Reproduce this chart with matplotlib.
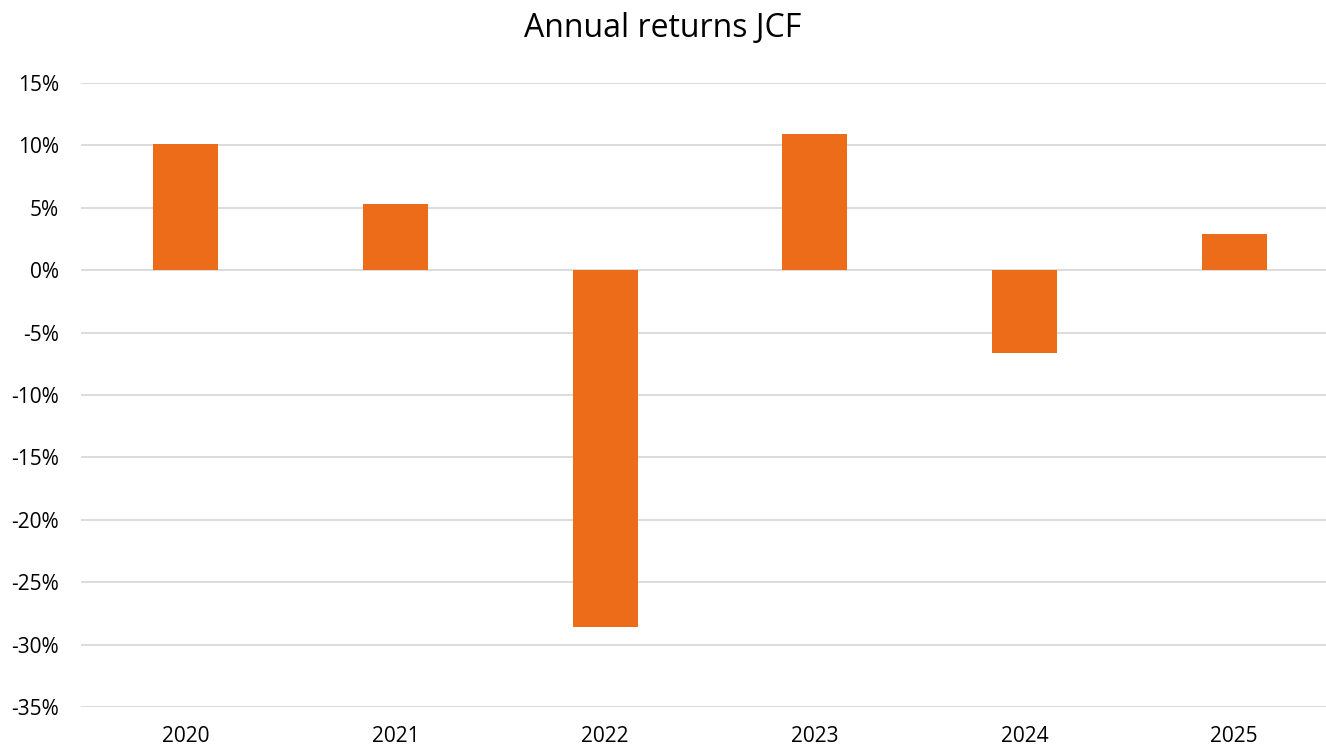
import numpy as np
import matplotlib.pyplot as plt
from matplotlib.ticker import FuncFormatter

years = ['2020', '2021', '2022', '2023', '2024', '2025']
returns = [10.1, 5.3, -28.6, 10.9, -6.6, 2.9]

plt.rcParams['font.family'] = ['Open Sans', 'DejaVu Sans']

fig = plt.figure(figsize=(13.26, 7.47), dpi=100)
# plot area runs a little past the right edge of the picture, as in the original
ax = fig.add_axes([0.0611, 0.0535, 0.9487, 0.8355])

x_pos = np.arange(len(years))
ax.bar(x_pos, returns, width=0.31, color='#EC6C19', zorder=3)

ax.set_xlim(-0.5, len(years) - 0.5)
ax.set_ylim(-35, 15)
ax.set_yticks(np.arange(-35, 16, 5))
ax.yaxis.set_major_formatter(FuncFormatter(lambda v, p: f'{v:.0f}%'))
ax.set_xticks(x_pos)
ax.set_xticklabels(years)

ax.grid(axis='y', color='#D9D9D9', linewidth=1.3, zorder=0)
for s in ax.spines.values():
    s.set_visible(False)
ax.tick_params(axis='both', length=0, labelsize=15, colors='#000000')
ax.tick_params(axis='x', pad=14)
ax.tick_params(axis='y', pad=16)

fig.text(0.5, 0.962, 'Annual returns JCF', ha='center', va='center', fontsize=23)

fig.savefig('out.png', dpi=100)
